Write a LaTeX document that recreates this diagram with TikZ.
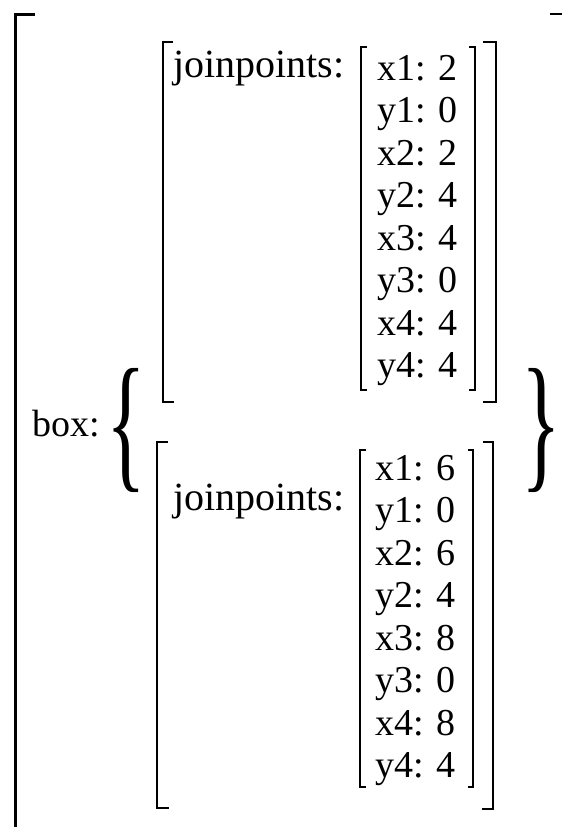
\documentclass[tikz,border=0pt]{standalone}
\usepackage{fontspec}
\setmainfont{Liberation Serif}
\begin{document}
\begin{tikzpicture}[x=1pt, y=-1pt, bar/.style={line width=2.6pt}, txt/.style={anchor=base west, inner sep=0pt, font=\fontsize{38}{40}\selectfont}, label/.style={txt, font=\fontsize{40}{42}\selectfont}, curly/.style={inner sep=0pt, xscale=0.55, font=\fontsize{150}{150}\selectfont}]
  \useasboundingbox (0,0) rectangle (562,827);

  \draw[bar, line width=3pt] (35,14) -- (15,14) -- (15,827);
  \draw[bar] (550,14) -- (562,14);

  \node[txt] (box) at (32,436) {box:};
  \node[curly] (lbr) at (126,430) {\{};
  \node[curly] (rbr) at (541,430) {\}};

  \node[label] (jpA) at (173,77) {joinpoints:};
  \foreach \k/\v [count=\i from 0] in {x1/2,y1/0,x2/2,y2/4,x3/4,y3/0,x4/4,y4/4}
    \node[txt] (a\i) at (377,80+42.5*\i) {\k: \v};
  \draw[bar] (173,42) -| (163,402) -- (174,402);
  \draw[bar] (483,42) -| (496,402) -- (483,402);
  \draw[bar] (367,47) -| (361,390) -- (367,390);
  \draw[bar] (469,47) -| (475,390) -- (469,390);

  \node[label] (jpB) at (173,510) {joinpoints:};
  \foreach \k/\v [count=\i from 0] in {x1/6,y1/0,x2/6,y2/4,x3/8,y3/0,x4/8,y4/4}
    \node[txt] (b\i) at (375,480+42.5*\i) {\k: \v};
  \draw[bar] (168,442) -| (157,808) -- (169,808);
  \draw[bar] (483,442) -| (493,809) -- (482,809);
  \draw[bar] (366,450) -| (360,787) -- (366,787);
  \draw[bar] (468,450) -| (473,787) -- (468,787);
\end{tikzpicture}
\end{document}
